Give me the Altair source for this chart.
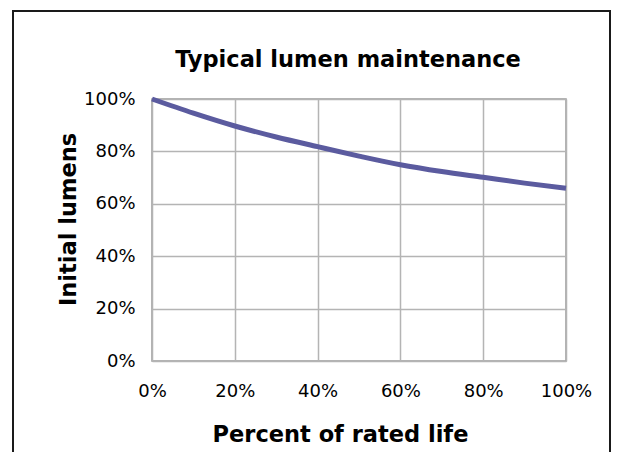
import altair as alt
import pandas as pd

life = [0, 10, 20, 30, 40, 50, 60, 70, 80, 90, 100]
lumens = [100, 94.6, 89.7, 85.5, 81.8, 78.2, 74.9, 72.3, 70.1, 67.9, 65.9]
tick_values = [0, 20, 40, 60, 80, 100]

df = pd.DataFrame({"life": life, "lumens": lumens})
frame_df = pd.DataFrame({"f": [0]})

FONT = "DejaVu Sans"

line = alt.Chart(df).mark_line(
    interpolate="monotone", color="#5b5b9f", strokeWidth=5
).encode(
    x=alt.X(
        "life:Q",
        scale=alt.Scale(domain=[0, 100], nice=False),
        axis=alt.Axis(
            values=tick_values,
            labelExpr="datum.value + '%'",
            labelFlush=False,
            title="Percent of rated life",
            titleX=188,
            titleY=80,
            titleBaseline="alphabetic",
            titleAlign="center",
            labelPadding=21,
        ),
    ),
    y=alt.Y(
        "lumens:Q",
        scale=alt.Scale(domain=[0, 100], nice=False),
        axis=alt.Axis(
            values=tick_values,
            labelExpr="datum.value + '%'",
            labelFlush=False,
            title="Initial lumens",
            titleX=-77,
            titleY=120,
            titleAngle=270,
            titleBaseline="alphabetic",
            titleAlign="center",
            labelPadding=17,
        ),
    ),
)

frame = alt.Chart(frame_df).mark_rect(
    fillOpacity=0, stroke="#1a1a1a", strokeWidth=2
).encode(
    x=alt.value(-139), x2=alt.value(458), y=alt.value(-88), y2=alt.value(400)
)

chart = alt.layer(frame, line).properties(
    width=414,
    height=262,
    background="white",
    title=alt.TitleParams(
        text="Typical lumen maintenance",
        font=FONT,
        fontSize=22.5,
        fontWeight="bold",
        color="#000000",
        anchor="middle",
        baseline="alphabetic",
        dx=-11,
        offset=-79,
    ),
    padding={"left": 144, "top": 91, "right": 45, "bottom": 91},
    autosize=alt.AutoSizeParams(type="none"),
).configure_view(
    stroke="#9a9a9a", strokeWidth=1.5
).configure_axis(
    grid=True,
    gridColor="#b4b4b4",
    gridWidth=1.5,
    domain=False,
    ticks=False,
    labelFont=FONT,
    labelFontSize=18,
    labelColor="#000000",
    titleFont=FONT,
    titleFontSize=22.5,
    titleFontWeight="bold",
    titleColor="#000000",
)

chart.save("out.html", embed_options={"renderer": "svg", "actions": False})
